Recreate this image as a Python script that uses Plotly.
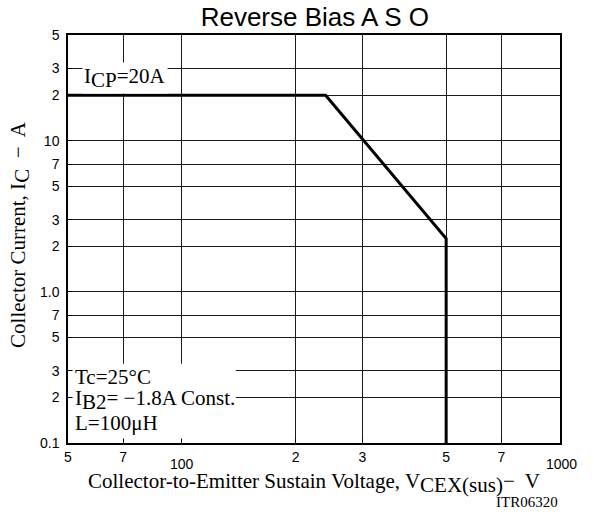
import math
import plotly.graph_objects as go

# ---- data ----
voltage = [50, 240, 500, 500]          # V
current = [20, 20, 2.25, 0.1]          # A

x_tickvals = [50, 70, 100, 200, 300, 500, 700, 1000]
x_ticktext = ["5", "7", "", "2", "3", "5", "7", ""]
y_tickvals = [0.1, 0.2, 0.3, 0.5, 0.7, 1, 2, 3, 5, 7, 10, 20, 30, 50]
y_ticktext = ["0.1", "2", "3", "5", "7", "1.0", "2", "3", "5", "7", "10", "2", "3", "5"]

SANS = "Liberation Sans, Arial, Helvetica, sans-serif"
SERIF = "Liberation Serif, Times New Roman, serif"

fig = go.Figure()
fig.add_trace(go.Scatter(
    x=voltage, y=current, mode="lines",
    line=dict(color="black", width=3),
    showlegend=False, hoverinfo="skip",
))

axis_common = dict(
    type="log",
    showline=True, mirror=True, linecolor="black", linewidth=1.5,
    showgrid=True, gridcolor="#1a1a1a", gridwidth=1,
    ticks="inside", ticklen=4, tickcolor="black", tickwidth=1,
    tickfont=dict(family=SANS, size=14, color="black"),
    zeroline=False, tickmode="array",
)

fig.update_xaxes(
    range=[math.log10(50), math.log10(1000)],
    tickvals=x_tickvals, ticktext=x_ticktext,
    **axis_common,
)
fig.update_yaxes(
    range=[math.log10(0.1), math.log10(50)],
    tickvals=y_tickvals, ticktext=y_ticktext,
    ticklabelstandoff=4,
    **axis_common,
)

sub = lambda s, size: f"<sub><span style='font-size:{size}px'>{s}</span></sub>"

# white backing behind the conditions text (hides grid there)
fig.add_shape(type="rect", xref="paper", yref="paper",
              x0=0.0095, x1=0.341, y0=0.011, y1=0.194,
              fillcolor="white", line=dict(width=0), layer="above")
fig.add_shape(type="rect", xref="paper", yref="paper",
              x0=0.003, x1=0.0095, y0=0.011, y1=0.194,
              fillcolor="white", line=dict(width=0), layer="below")

annotations = [
    # special x tick labels
    dict(x=math.log10(100), y=0, xref="x", yref="paper", text="100",
         showarrow=False, yanchor="top", yshift=-11,
         font=dict(family=SANS, size=14, color="black")),
    dict(x=math.log10(1000), y=0, xref="x", yref="paper", text="1000",
         showarrow=False, yanchor="top", yshift=-11, xshift=1,
         font=dict(family=SANS, size=14, color="black")),
    # axis titles
    dict(x=0.5, y=0, xref="paper", yref="paper",
         text="Collector-to-Emitter Sustain Voltage, V" + sub("CEX(sus)", 21) + "−  V",
         showarrow=False, yanchor="top", yshift=-24,
         font=dict(family=SERIF, size=21, color="black")),
    dict(x=0, y=0.51, xref="paper", yref="paper",
         text="Collector Current, I" + sub("C", 21) + "  −  A",
         showarrow=False, textangle=-90, xanchor="center", xshift=-48,
         font=dict(family=SERIF, size=21, color="black")),
    dict(x=1, y=0, xref="paper", yref="paper", text="ITR06320",
         showarrow=False, xanchor="right", yanchor="middle", yshift=-59,
         font=dict(family=SERIF, size=15, color="black")),
    # in-plot labels
    dict(x=0.116, y=1, xref="paper", yref="paper",
         text="I" + sub("CP", 21) + "=20A",
         showarrow=False, xanchor="center", yanchor="top", yshift=-27,
         bgcolor="white", borderpad=1,
         font=dict(family=SERIF, size=21, color="black")),
]
cond_lines = ["Tc=25°C", "I" + sub("B2", 21) + "= −1.8A Const.", "L=100μH"]
cond_y = [0.161, 0.106, 0.048]
for t, yy in zip(cond_lines, cond_y):
    annotations.append(dict(
        x=0, y=yy, xref="paper", yref="paper", text=t,
        showarrow=False, xanchor="left", yanchor="middle", align="left",
        xshift=5, font=dict(family=SERIF, size=21, color="black")))

fig.update_layout(
    width=594, height=512,
    margin=dict(l=68, r=34, t=35, b=69),
    paper_bgcolor="white", plot_bgcolor="white",
    title=dict(text="Reverse Bias A S O", x=0.53, xanchor="center",
               y=1 - 17 / 512, yanchor="middle",
               font=dict(family=SANS, size=26, color="black")),
    annotations=annotations,
)

fig.write_html("out.html", config={"displayModeBar": False},
               post_script="document.body.style.margin='0';")
